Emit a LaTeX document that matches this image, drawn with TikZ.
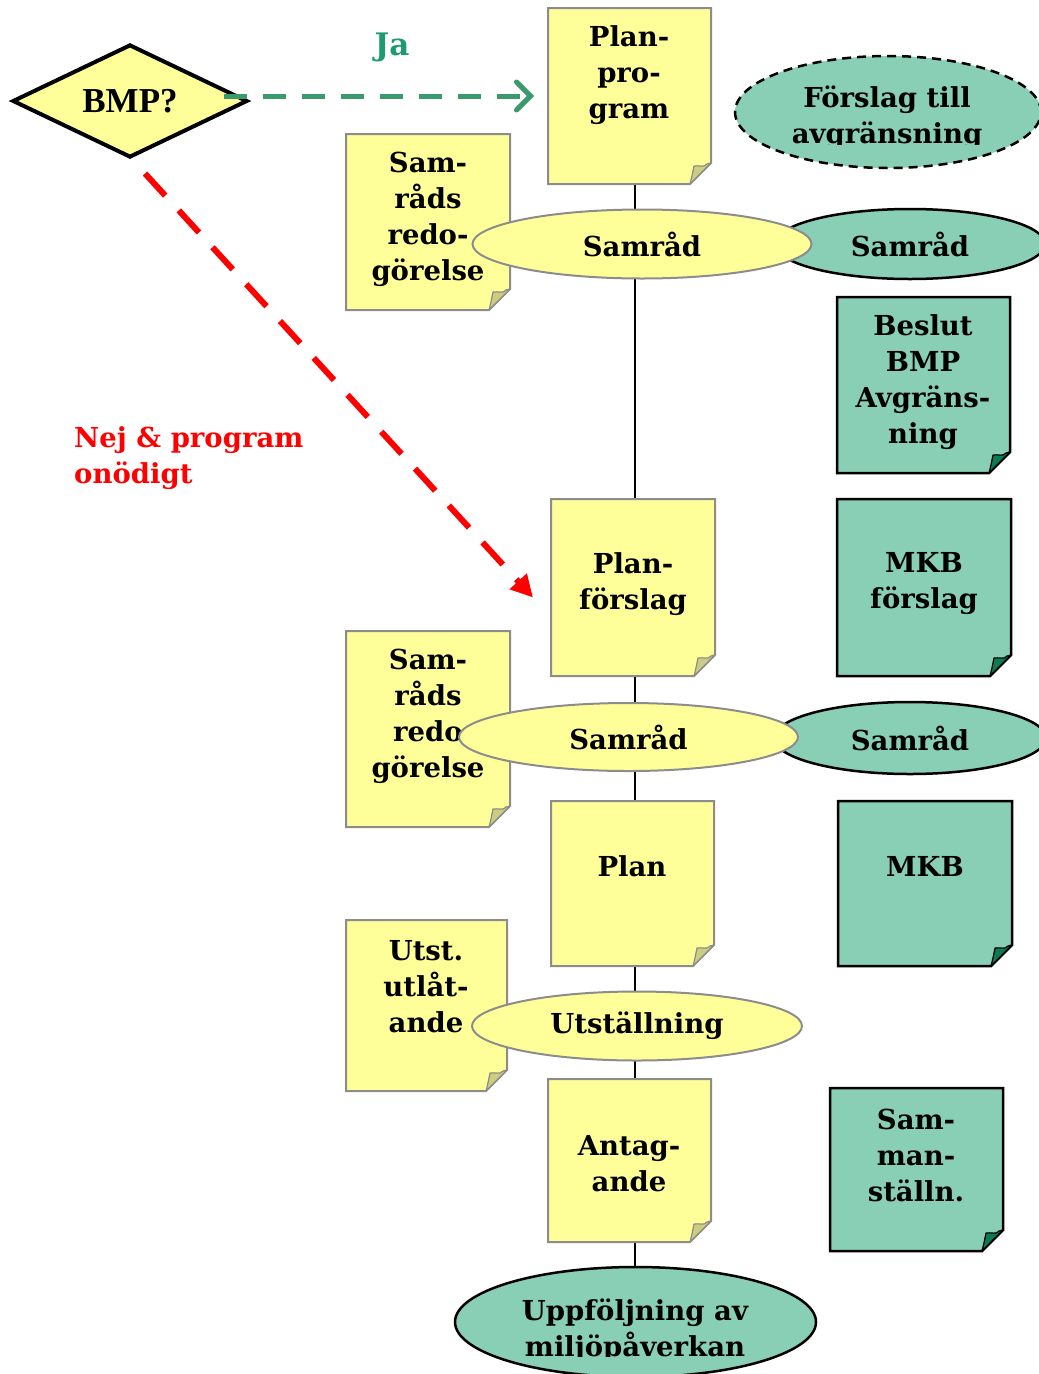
\documentclass[tikz,border=0pt]{standalone}
\usepackage{fontspec}
\setmainfont{DejaVu Serif}
\newfontfamily\timesfont{Liberation Serif}
\usetikzlibrary{shapes.geometric,arrows.meta,calc,fit,backgrounds}
\definecolor{yfill}{HTML}{FFFF99}
\definecolor{ydraw}{HTML}{8C8C8C}
\definecolor{yfold}{HTML}{CDCD80}
\definecolor{gfill}{HTML}{88CFB6}
\definecolor{gfold}{HTML}{0E7A52}
\definecolor{jagreen}{HTML}{3A9A6C}
\definecolor{jatext}{HTML}{1E9B6E}
\tikzset{
  txt/.style={font=\bfseries\fontsize{27.5}{36}\selectfont, align=center, inner sep=0pt},
  Ybox/.style={fill=yfill, draw=ydraw, line width=2pt},
  Yfold/.style={fill=yfold, draw=ydraw, line width=1.2pt},
  Gbox/.style={fill=gfill, draw=black, line width=2.5pt},
  Gfold/.style={fill=gfold, draw=black, line width=1.2pt},
  yell/.style={ellipse, fill=yfill, draw=ydraw, line width=2pt, inner sep=0pt, txt},
  gell/.style={ellipse, fill=gfill, draw=black, line width=2.5pt, inner sep=0pt, txt},
  axisline/.style={draw=black, line width=1.5pt}
}
\newcommand\notebox[6]{%
  \path (#2,#3) coordinate (#1-a) (#4,#5) coordinate (#1-b);
  \node[fit=(#1-a)(#1-b), inner sep=0pt, outer sep=0pt] (#1) {};
  \filldraw[#6box] (#2,#3) -- (#4,#3) -- (#4,#5-21) -- (#4-21,#5) -- (#2,#5) -- cycle;
  \filldraw[#6fold, line join=round] (#4-21,#5) .. controls (#4-19,#5-8) .. (#4-17,#5-18)
     .. controls (#4-12,#5-19) and (#4-7,#5-16) .. (#4-4,#5-20) -- (#4,#5-21) -- cycle;
}
\begin{document}
\begin{tikzpicture}[x=1pt,y=-1pt]
\useasboundingbox (0,0) rectangle (1039,1374);
\coordinate (axis) at (635,0);

% decision
\node[diamond, aspect=2.08, minimum width=235pt, minimum height=113pt, inner sep=0pt,
      fill=yfill, draw=black, line width=4pt, font=\timesfont\bfseries\fontsize{35}{40}\selectfont]
      (bmp) at (130,101) {BMP?};

% yellow note boxes
\notebox{pp}{548}{8}{711}{184}{Y}
\node[txt] (pp-t) at (629,75) {Plan-\\pro-\\gram};
\notebox{sr1}{346}{134}{510}{310}{Y}
\node[txt] (sr1-t) at (428,219) {Sam-\\råds\\redo-\\görelse};
\notebox{pf}{551}{499}{715}{676}{Y}
\node[txt] (pf-t) at (633,584) {Plan-\\förslag};
\notebox{sr2}{346}{631}{510}{827}{Y}
\node[txt] (sr2-t) at (428,716) {Sam-\\råds\\redo\\görelse};
\notebox{plan}{551}{801}{714}{966}{Y}
\node[txt] (plan-t) at (632,866) {Plan};
\notebox{ua}{346}{920}{507}{1091}{Y}
\node[txt] (ua-t) at (426,987) {Utst.\\utlåt-\\ande};
\notebox{ant}{548}{1079}{711}{1242}{Y}
\node[txt] (ant-t) at (629,1164) {Antag-\\ande};

% green note boxes
\notebox{bes}{837}{297}{1010}{473}{G}
\node[txt] (bes-t) at (923,382) {Beslut\\BMP\\Avgräns-\\ning};
\notebox{mkbf}{837}{499}{1011}{676}{G}
\node[txt] (mkbf-t) at (924,584) {MKB\\förslag};
\notebox{mkb}{838}{801}{1012}{966}{G}
\node[txt] (mkb-t) at (925,866) {MKB};
\notebox{sam}{830}{1088}{1003}{1251}{G}
\node[txt] (sam-t) at (916,1155) {Sam-\\man-\\ställn.};

% green ellipses
\node[gell, dashed, dash pattern=on 9pt off 6pt, minimum width=306pt, minimum height=112pt] (fta) at (888,112) {};
\begin{scope}
  \clip (735,50) rectangle (1039,144);
  \node[txt] (fta-t) at (887,118) {Förslag till\\avgränsning};
\end{scope}
\node[gell, minimum width=270pt, minimum height=70pt] (g1) at (910,244) {Samråd};
\node[gell, minimum width=272pt, minimum height=72pt] (g2) at (910,738) {Samråd};
\node[gell, minimum width=361pt, minimum height=110pt] (upp) at (635.5,1322) {};
\begin{scope}
  \clip (455,1268) rectangle (816,1356);
  \node[txt] (upp-t) at (635,1331) {Uppföljning av\\miljöpåverkan};
\end{scope}

% yellow ellipses
\node[yell, minimum width=339pt, minimum height=69pt] (s1) at (642,244) {Samråd};
\node[yell, minimum width=339pt, minimum height=68pt] (s2) at (628.5,737) {Samråd};
\node[yell, minimum width=330pt, minimum height=69pt] (ut) at (637,1026) {Utställning};

% vertical connectors
\begin{pgfonlayer}{background}
  \draw[axisline] (pp.south -| axis) -- (s1.center -| axis);
  \draw[axisline] (s1.center -| axis) -- (pf.north -| axis);
  \draw[axisline] (pf.south -| axis) -- (s2.center -| axis);
  \draw[axisline] (s2.center -| axis) -- (plan.north -| axis);
  \draw[axisline] (plan.south -| axis) -- (ut.center -| axis);
  \draw[axisline] (ut.center -| axis) -- (ant.north -| axis);
  \draw[axisline] (ant.south -| axis) -- (upp.center -| axis);
\end{pgfonlayer}

% decision arrows
\draw[jagreen, line width=5pt, dash pattern=on 23pt off 16pt,
      -{Straight Barb[length=14pt,width=28pt,line cap=round]}]
  ($(bmp.east)+(-26,-5)$) -- ($(pp.west |- bmp.east)+(-14,-5)$);
\node[font=\bfseries\fontsize{31}{36}\selectfont, text=jatext, inner sep=0pt] (ja) at (392,47) {Ja};

\draw[red, line width=6pt, dash pattern=on 30pt off 20pt,
      -{Triangle[length=22pt,width=22pt]}]
  ($(bmp.south)+(15,14)$) -- ($(pf.west)+(-18,10)$);
\node[font=\bfseries\fontsize{27.5}{36}\selectfont, text=red, align=left, inner sep=0pt, anchor=west] (nej) at (74,458) {Nej \& program\\onödigt};
\end{tikzpicture}
\end{document}
